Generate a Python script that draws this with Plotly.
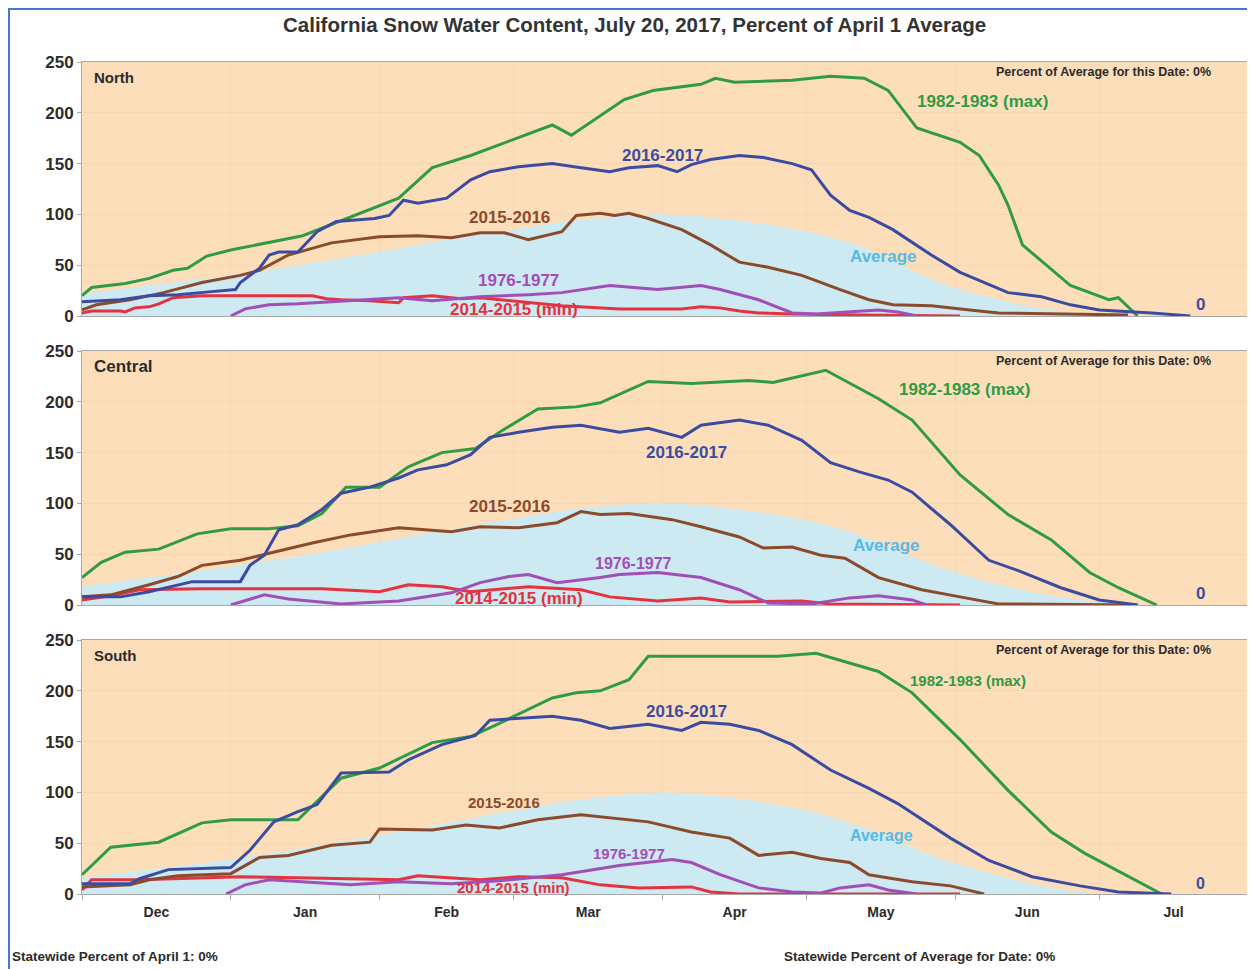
import pandas as pd
import plotly.graph_objects as go
from plotly.subplots import make_subplots

START = pd.Timestamp("2016-12-01")

# x values are days since Dec 1, y values are percent of April 1 average

# ---- North ----
north_avg_day = [0, 14, 31, 45, 62, 76, 90, 104, 121, 135, 151, 160, 167, 177, 191, 205, 218]
north_avg_pct = [22, 30, 40, 50, 63, 75, 85, 95, 100, 95, 83, 72, 59, 36, 16, 4, 0]

north_max_day = [0, 2, 9, 14, 19, 22, 26, 31, 46, 52, 66, 73, 81, 98, 102, 113, 119, 129, 132, 136,
                 148, 156, 163, 168, 174, 183, 187, 191, 193, 196, 206, 214, 216, 220]
north_max_pct = [20, 28, 32, 37, 45, 47, 59, 65, 79, 90, 116, 146, 158, 188, 178, 213, 222, 228, 234, 230,
                 232, 236, 234, 222, 185, 171, 158, 129, 109, 70, 30, 16, 18, 0]

north_2017_day = [0, 8, 14, 20, 27, 32, 33, 37, 39, 41, 45, 49, 53, 61, 64, 67, 70, 76, 81, 85, 91, 98, 104,
                  110, 114, 120, 124, 127, 131, 137, 142, 148, 152, 156, 160, 164, 169, 177, 183, 189, 193,
                  200, 206, 212, 223, 231]
north_2017_pct = [14, 16, 20, 21, 24, 26, 33, 47, 60, 63, 63, 83, 93, 96, 99, 114, 111, 116, 134, 142, 147,
                  150, 146, 142, 146, 148, 142, 149, 154, 158, 156, 150, 144, 119, 104, 97, 85, 60, 43, 31,
                  23, 19, 11, 6, 3, 0]

north_2016_day = [0, 3, 10, 17, 25, 33, 37, 43, 52, 62, 70, 77, 83, 88, 93, 100, 103, 108, 111, 114, 118,
                  125, 131, 137, 143, 150, 158, 164, 169, 177, 185, 191, 218]
north_2016_pct = [6, 11, 16, 23, 33, 40, 45, 60, 72, 78, 79, 77, 82, 82, 75, 83, 99, 101, 99, 101, 96,
                  85, 70, 53, 48, 40, 26, 16, 11, 10, 6, 3, 1]

north_1977_day = [31, 34, 39, 45, 52, 58, 66, 73, 83, 93, 100, 110, 120, 129, 133, 141, 148, 153, 160,
                  166, 170, 174]
north_1977_pct = [0, 7, 11, 12, 14, 16, 18, 15, 19, 21, 23, 30, 26, 30, 26, 16, 3, 2, 4, 6, 4, 0]

north_min_day = [0, 2, 8, 9, 11, 14, 16, 19, 25, 48, 51, 54, 60, 66, 67, 73, 79, 83, 100, 112, 125, 129,
                 133, 137, 141, 148, 162, 183]
north_min_pct = [3, 5, 5, 4, 8, 9, 12, 18, 20, 20, 17, 16, 15, 13, 18, 20, 17, 18, 10, 7, 7, 9, 8, 5, 3,
                 2, 1, 0]

# ---- Central ----
central_avg_day = [0, 14, 31, 45, 62, 76, 90, 104, 121, 135, 151, 160, 167, 177, 191, 205, 222]
central_avg_pct = [18, 27, 38, 48, 62, 74, 85, 95, 100, 95, 83, 72, 59, 40, 20, 7, 0]

central_max_day = [0, 4, 9, 16, 24, 31, 39, 45, 50, 55, 62, 68, 75, 82, 87, 95, 103, 108, 118, 127, 139,
                   144, 155, 166, 173, 183, 193, 202, 210, 216, 224]
central_max_pct = [27, 42, 52, 55, 70, 75, 75, 78, 90, 116, 116, 136, 150, 154, 170, 193, 195, 199, 220,
                   218, 221, 219, 231, 203, 182, 128, 89, 64, 32, 17, 0]

central_2017_day = [0, 8, 14, 23, 33, 35, 38, 41, 45, 50, 54, 60, 66, 70, 76, 81, 85, 91, 98, 104, 112,
                    118, 125, 129, 137, 143, 150, 156, 162, 168, 173, 181, 189, 195, 204, 212, 220]
central_2017_pct = [8, 8, 13, 23, 23, 39, 49, 74, 79, 94, 110, 116, 125, 133, 138, 148, 165, 170, 175, 177,
                    170, 174, 165, 177, 182, 177, 162, 140, 131, 123, 111, 79, 44, 34, 17, 5, 0]

central_2016_day = [0, 6, 14, 20, 25, 33, 39, 48, 56, 66, 77, 83, 91, 99, 104, 108, 114, 123, 129, 137,
                    142, 148, 154, 159, 166, 175, 183, 191, 220]
central_2016_pct = [8, 10, 20, 28, 39, 44, 51, 61, 69, 76, 72, 77, 76, 81, 92, 89, 90, 84, 77, 67, 56, 57,
                    49, 46, 27, 15, 8, 1, 0]

central_1977_day = [31, 38, 43, 54, 66, 77, 83, 89, 93, 99, 108, 112, 120, 129, 137, 143, 152, 160, 166,
                    173, 176]
central_1977_pct = [0, 10, 6, 1, 4, 12, 22, 28, 30, 22, 27, 30, 32, 27, 15, 2, 1, 7, 9, 5, 0]

central_min_day = [0, 6, 12, 25, 50, 62, 68, 75, 81, 93, 104, 110, 120, 129, 135, 150, 156, 183]
central_min_pct = [5, 9, 15, 16, 16, 13, 20, 18, 13, 18, 15, 8, 4, 7, 3, 4, 1, 0]

# ---- South ----
south_avg_day = [0, 14, 31, 45, 62, 76, 90, 104, 121, 135, 151, 160, 167, 177, 191, 203, 214]
south_avg_pct = [16, 24, 34, 44, 58, 70, 82, 93, 100, 95, 82, 70, 58, 38, 18, 5, 0]

south_max_day = [0, 6, 16, 25, 31, 45, 54, 62, 73, 81, 87, 98, 103, 108, 114, 118, 129, 145, 153, 166,
                 173, 183, 193, 202, 209, 225]
south_max_pct = [19, 46, 51, 70, 73, 73, 114, 124, 149, 155, 168, 193, 198, 200, 211, 234, 234, 234, 237,
                 219, 198, 152, 102, 61, 40, 0]

south_2017_day = [0, 10, 12, 18, 31, 35, 40, 45, 49, 54, 64, 68, 75, 82, 85, 91, 98, 104, 110, 118, 125,
                  129, 135, 141, 148, 156, 164, 170, 181, 189, 198, 208, 216, 227]
south_2017_pct = [10, 10, 15, 24, 26, 43, 71, 81, 88, 119, 120, 132, 147, 156, 171, 173, 175, 171, 163,
                  167, 161, 169, 167, 161, 147, 122, 104, 89, 55, 33, 17, 8, 2, 0]

south_2016_day = [0, 10, 14, 20, 31, 37, 43, 52, 60, 62, 73, 80, 87, 95, 104, 110, 118, 127, 135, 141,
                  148, 154, 160, 164, 173, 181, 188]
south_2016_pct = [7, 9, 14, 18, 20, 36, 38, 48, 51, 64, 63, 68, 65, 73, 78, 75, 71, 61, 55, 38, 41, 35,
                  31, 19, 12, 8, 0]

south_1977_day = [30, 34, 39, 45, 56, 66, 77, 87, 100, 112, 123, 127, 133, 141, 148, 154, 158, 164, 168, 174]
south_1977_pct = [0, 9, 14, 12, 9, 12, 10, 13, 19, 28, 34, 31, 19, 6, 2, 1, 6, 9, 4, 0]

south_min_day = [0, 2, 12, 33, 45, 66, 70, 83, 91, 100, 108, 116, 127, 131, 137, 183]
south_min_pct = [4, 14, 14, 17, 16, 14, 18, 14, 17, 16, 9, 6, 7, 2, 0, 0]

GREEN = "#2f9b45"
BLUE = "#3b4ca0"
BROWN = "#8a4a2c"
PURPLE = "#a24eb8"
RED = "#e4323f"
AVG_FILL = "#cde9f1"
AVG_TEXT = "#56bbe3"
PEACH = "#fddebb"
FONT = "Liberation Sans, Arial, sans-serif"

# the page body adds an 8px margin, so the figure is 8px smaller than the window
W, H = 1247, 961
ML, MR, MT, MB = 74, 7, 54, 75
PW, PH = W - ML - MR, H - MT - MB


# page-pixel -> paper helpers (plot area spans x 82..1248, y 62..894 on the page)
def px(x):
    return (x - 82) / PW


def py(y):
    return (894 - y) / PH


def to_dates(days):
    return START + pd.to_timedelta(days, unit="D")


fig = make_subplots(rows=3, cols=1, shared_xaxes=True, vertical_spacing=35 / PH)

panels = [
    (1, north_avg_day, north_avg_pct, [
        (north_min_day, north_min_pct, RED),
        (north_1977_day, north_1977_pct, PURPLE),
        (north_2016_day, north_2016_pct, BROWN),
        (north_max_day, north_max_pct, GREEN),
        (north_2017_day, north_2017_pct, BLUE),
    ]),
    (2, central_avg_day, central_avg_pct, [
        (central_min_day, central_min_pct, RED),
        (central_1977_day, central_1977_pct, PURPLE),
        (central_2016_day, central_2016_pct, BROWN),
        (central_max_day, central_max_pct, GREEN),
        (central_2017_day, central_2017_pct, BLUE),
    ]),
    (3, south_avg_day, south_avg_pct, [
        (south_min_day, south_min_pct, RED),
        (south_1977_day, south_1977_pct, PURPLE),
        (south_2016_day, south_2016_pct, BROWN),
        (south_max_day, south_max_pct, GREEN),
        (south_2017_day, south_2017_pct, BLUE),
    ]),
]

for row, avg_day, avg_pct, lines in panels:
    fig.add_trace(go.Scatter(
        x=to_dates(avg_day), y=avg_pct, mode="lines", fill="tozeroy",
        fillcolor=AVG_FILL, line=dict(width=0, shape="spline", smoothing=1.0),
        showlegend=False, hoverinfo="skip"), row=row, col=1)
    for days, pct, color in lines:
        fig.add_trace(go.Scatter(
            x=to_dates(days), y=pct, mode="lines",
            line=dict(color=color, width=3), showlegend=False), row=row, col=1)

# series labels: (text, day, value, color, size)
labels = {
    1: [("1982-1983 (max)", 187.7, 211, GREEN, 17),
        ("2016-2017", 121, 158, BLUE, 17),
        ("2015-2016", 89, 97, BROWN, 17),
        ("Average", 167, 59, AVG_TEXT, 17),
        ("1976-1977", 91, 35, PURPLE, 17),
        ("2014-2015 (min)", 90, 6, RED, 17),
        ("0", 233, 11, BLUE, 17)],
    2: [("1982-1983 (max)", 184, 212, GREEN, 17),
        ("2016-2017", 126, 150, BLUE, 17),
        ("2015-2016", 89, 97, BROWN, 17),
        ("Average", 167.5, 59, AVG_TEXT, 17),
        ("1976-1977", 115, 41, PURPLE, 16),
        ("2014-2015 (min)", 91, 6, RED, 17),
        ("0", 233, 11, BLUE, 17)],
    3: [("1982-1983 (max)", 184.6, 210.6, GREEN, 15),
        ("2016-2017", 126, 180, BLUE, 17),
        ("2015-2016", 88, 90.5, BROWN, 15),
        ("Average", 166.7, 58, AVG_TEXT, 16),
        ("1976-1977", 114, 40, PURPLE, 15),
        ("2014-2015 (min)", 90, 6, RED, 15),
        ("0", 233, 10, BLUE, 16)],
}

for row, items in labels.items():
    suffix = "" if row == 1 else str(row)
    for text, day, val, color, size in items:
        fig.add_annotation(
            x=START + pd.Timedelta(days=day), y=val, xref="x" + suffix, yref="y" + suffix,
            text="<b>%s</b>" % text, showarrow=False, xanchor="center", yanchor="middle",
            font=dict(family=FONT, size=size, color=color))

# panel names and "percent for this date" notes
for name, ytop, size in [("North", 77, 15), ("Central", 366, 17), ("South", 655, 15)]:
    fig.add_annotation(x=px(92), y=py(ytop), xref="paper", yref="paper", text="<b>%s</b>" % name,
                       showarrow=False, xanchor="left", yanchor="middle",
                       font=dict(family=FONT, size=size, color="#2b2b2b"))
    fig.add_annotation(x=px(1213), y=py(ytop - 5), xref="paper", yref="paper",
                       text="<b>Percent of Average for this Date: 0%</b>", showarrow=False,
                       xanchor="right", yanchor="middle",
                       font=dict(family=FONT, size=12.5, color="#2b2b2b"))

fig.add_annotation(x=px(634), y=py(24), xref="paper", yref="paper",
                   xanchor="center", yanchor="middle",
                   text="<b>California Snow Water Content, July 20, 2017, Percent of April 1 Average</b>",
                   showarrow=False, font=dict(family=FONT, size=20.5, color="#333333"))

fig.add_annotation(x=px(10), y=py(956), xref="paper", yref="paper", xanchor="left", yanchor="middle",
                   text="<b>Statewide Percent of April 1: 0%</b>", showarrow=False,
                   font=dict(family=FONT, size=13.5, color="#2b2b2b"))
fig.add_annotation(x=px(782), y=py(956), xref="paper", yref="paper", xanchor="left", yanchor="middle",
                   text="<b>Statewide Percent of Average for Date: 0%</b>", showarrow=False,
                   font=dict(family=FONT, size=13.5, color="#2b2b2b"))

# page frame
fig.add_shape(type="rect", xref="paper", yref="paper",
              x0=px(9), x1=px(1275), y0=py(990), y1=py(9),
              line=dict(color="#4a78c4", width=2), layer="above")

fig.update_xaxes(
    type="date", range=[START, pd.Timestamp("2017-08-01")],
    dtick="M1", tick0=START, tickformat="%b", ticklabelmode="period",
    showline=True, linecolor="#a8a8a8", linewidth=1, mirror=True,
    showgrid=True, gridcolor="rgba(190,150,110,0.10)", zeroline=False,
    tickfont=dict(family=FONT, size=14, color="#2b2b2b", weight="bold"))
fig.update_xaxes(ticks="", row=1, col=1)
fig.update_xaxes(ticks="", row=2, col=1)
fig.update_xaxes(ticks="outside", ticklen=5, tickcolor="#a8a8a8", row=3, col=1)

fig.update_yaxes(
    range=[0, 250], dtick=50, showline=True, linecolor="#a8a8a8", linewidth=1,
    ticks="outside", ticklen=4, tickcolor="#a8a8a8",
    showgrid=True, gridcolor="rgba(190,150,110,0.10)", zeroline=False,
    tickfont=dict(family=FONT, size=17, color="#2b2b2b", weight="bold"))

fig.update_layout(
    width=W, height=H,
    margin=dict(l=ML, r=MR, t=MT, b=MB),
    paper_bgcolor="white", plot_bgcolor=PEACH,
    showlegend=False,
    font=dict(family=FONT),
)

fig.write_html("out.html")
